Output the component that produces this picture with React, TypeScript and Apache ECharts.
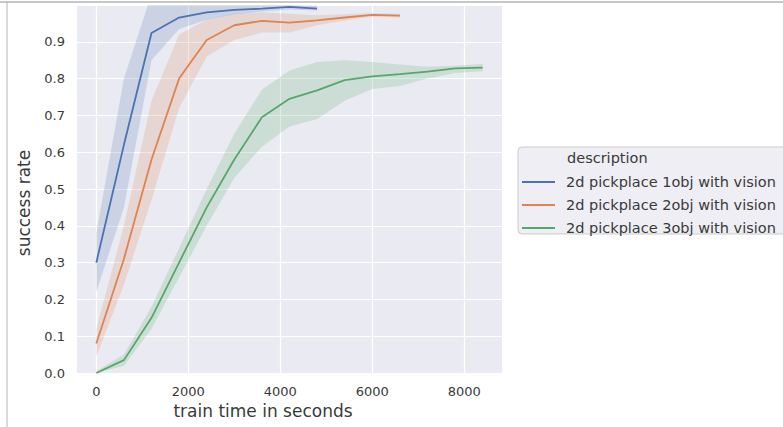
import React, { useEffect, useRef } from "react";
import * as echarts from "echarts";

const seriesNames = [
  "2d pickplace 1obj with vision",
  "2d pickplace 2obj with vision",
  "2d pickplace 3obj with vision",
];
const colors = ["#4c72b0", "#dd8452", "#55a868"];

const x1 = [0, 600, 1200, 1800, 2400, 3000, 3600, 4200, 4800];
const blueMean = [0.30, 0.62, 0.924, 0.966, 0.98, 0.987, 0.99, 0.995, 0.99];
const blueLo = [0.22, 0.45, 0.85, 0.935, 0.96, 0.975, 0.982, 0.988, 0.985];
const blueHi = [0.38, 0.80, 1.03, 1.02, 1.01, 1.0, 1.0, 1.0, 0.998];

const x2 = [0, 600, 1200, 1800, 2400, 3000, 3600, 4200, 4800, 5400, 6000, 6600];
const orangeMean = [0.08, 0.31, 0.58, 0.80, 0.905, 0.945, 0.957, 0.952, 0.958, 0.966, 0.973, 0.971];
const orangeLo = [0.045, 0.24, 0.47, 0.72, 0.86, 0.905, 0.925, 0.925, 0.945, 0.958, 0.968, 0.966];
const orangeHi = [0.12, 0.40, 0.74, 0.92, 0.96, 0.977, 0.98, 0.976, 0.972, 0.975, 0.978, 0.976];

const x3 = [0, 600, 1200, 1800, 2400, 3000, 3600, 4200, 4800, 5400, 6000, 6600, 7200, 7800, 8400];
const greenMean = [0.0, 0.035, 0.15, 0.30, 0.45, 0.58, 0.695, 0.745, 0.768, 0.796, 0.806, 0.812, 0.819, 0.828, 0.83];
const greenLo = [0.0, 0.02, 0.12, 0.26, 0.40, 0.53, 0.615, 0.67, 0.69, 0.74, 0.772, 0.78, 0.80, 0.815, 0.82];
const greenHi = [0.005, 0.05, 0.18, 0.34, 0.50, 0.65, 0.77, 0.822, 0.845, 0.85, 0.845, 0.838, 0.832, 0.835, 0.84];

const xTicks = [0, 2000, 4000, 6000, 8000];
const yTicks = [0, 0.1, 0.2, 0.3, 0.4, 0.5, 0.6, 0.7, 0.8, 0.9];

const FONT = "DejaVu Sans";
const TEXT = "#3a3a3a";

function bandSeries(xs: number[], lo: number[], hi: number[], color: string) {
  return {
    type: "custom",
    clip: true,
    silent: true,
    z: 1,
    data: xs.map((x, i) => [x, lo[i], hi[i]]),
    encode: { x: 0, y: [1, 2] },
    renderItem: (params: any, api: any) => {
      if (params.dataIndex !== 0) return null;
      const upper = xs.map((x, i) => api.coord([x, hi[i]]));
      const lower = xs.map((x, i) => api.coord([x, lo[i]])).reverse();
      return {
        type: "polygon",
        shape: { points: upper.concat(lower) },
        style: { fill: color, opacity: 0.2 },
      };
    },
  };
}

function meanSeries(xs: number[], ys: number[], color: string, name: string) {
  return {
    type: "line",
    name,
    data: xs.map((x, i) => [x, ys[i]]),
    symbol: "none",
    lineStyle: { color, width: 1.8 },
    z: 3,
  };
}

export default function App() {
  const ref = useRef<HTMLDivElement>(null);
  useEffect(() => {
    if (!ref.current) return;
    const chart = echarts.init(ref.current, undefined, { renderer: "svg" });
    const entryYs = [182, 205, 228];
    chart.setOption({
      animation: false,
      grid: {
        left: 77,
        right: 281,
        top: 5,
        bottom: 54,
        show: true,
        backgroundColor: "#eaeaf2",
        borderWidth: 0,
      },
      xAxis: {
        type: "value",
        min: -420,
        max: 8820,
        axisLine: { show: false },
        axisTick: { show: false, customValues: xTicks },
        axisLabel: {
          customValues: xTicks,
          color: TEXT,
          fontFamily: FONT,
          fontSize: 13,
          margin: 12,
          formatter: (v: number) => String(v),
        },
        splitLine: { show: true, lineStyle: { color: "#ffffff", width: 1.2 } },
      },
      yAxis: {
        type: "value",
        min: 0,
        max: 1,
        interval: 0.1,
        axisLine: { show: false },
        axisTick: { show: false },
        axisLabel: {
          color: TEXT,
          fontFamily: FONT,
          fontSize: 13,
          margin: 12,
          formatter: (v: number) => (v > 0.95 ? "" : yTicks.includes(Math.round(v * 10) / 10) ? v.toFixed(1) : ""),
        },
        splitLine: { show: true, lineStyle: { color: "#ffffff", width: 1.2 } },
      },
      series: [
        bandSeries(x1, blueLo, blueHi, colors[0]),
        meanSeries(x1, blueMean, colors[0], seriesNames[0]),
        bandSeries(x2, orangeLo, orangeHi, colors[1]),
        meanSeries(x2, orangeMean, colors[1], seriesNames[1]),
        bandSeries(x3, greenLo, greenHi, colors[2]),
        meanSeries(x3, greenMean, colors[2], seriesNames[2]),
      ],
      graphic: [
        {
          type: "line",
          shape: { x1: 0, y1: 2, x2: 783, y2: 2 },
          style: { stroke: "#b4b4b4", lineWidth: 1.5 },
          silent: true,
        },
        {
          type: "line",
          shape: { x1: 7, y1: 2, x2: 7, y2: 427 },
          style: { stroke: "#b4b4b4", lineWidth: 1 },
          silent: true,
        },
        {
          type: "text",
          x: 263,
          y: 411,
          style: {
            text: "train time in seconds",
            fill: TEXT,
            font: `17px "${FONT}"`,
            textAlign: "center",
            textVerticalAlign: "middle",
          },
        },
        {
          type: "text",
          x: 24,
          y: 203,
          rotation: Math.PI / 2,
          style: {
            text: "success rate",
            fill: TEXT,
            font: `17px "${FONT}"`,
            textAlign: "center",
            textVerticalAlign: "middle",
          },
        },
        {
          type: "rect",
          shape: { x: 518, y: 147, width: 280, height: 87, r: 4 },
          style: { fill: "#eeeef4", stroke: "#cccccc", lineWidth: 1 },
          silent: true,
        },
        {
          type: "text",
          x: 567,
          y: 158,
          style: {
            text: "description",
            fill: TEXT,
            font: `14.5px "${FONT}"`,
            textAlign: "left",
            textVerticalAlign: "middle",
          },
        },
        ...seriesNames.flatMap((name, i) => [
          {
            type: "line",
            shape: { x1: 522, y1: entryYs[i], x2: 555, y2: entryYs[i] },
            style: { stroke: colors[i], lineWidth: 1.8 },
            silent: true,
          },
          {
            type: "text",
            x: 566,
            y: entryYs[i],
            style: {
              text: name,
              fill: TEXT,
              font: `14.5px "${FONT}"`,
              textAlign: "left",
              textVerticalAlign: "middle",
            },
          },
        ]),
      ],
    });
    return () => chart.dispose();
  }, []);
  return <div ref={ref} style={{ width: 783, height: 427, position: "absolute", left: 0, top: 0 }} />;
}
